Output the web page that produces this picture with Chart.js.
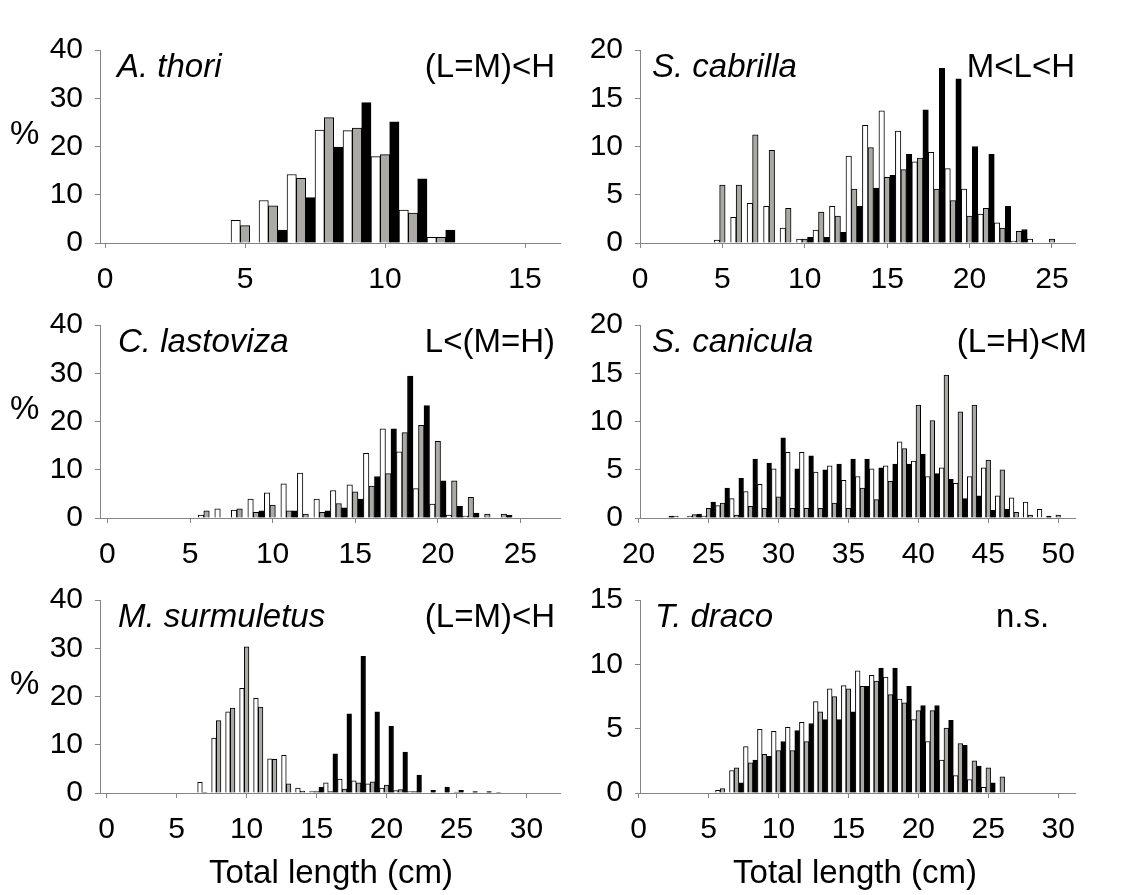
<!DOCTYPE html>
<html>
<head>
<meta charset="utf-8">
<script src="https://cdn.jsdelivr.net/npm/chart.js@4.4.1/dist/chart.umd.min.js"></script>
<style>
  body { margin: 0; background: #fff; width: 1124px; height: 895px; position: relative; overflow: hidden;
         font-family: "Liberation Sans", Arial, sans-serif; }
  canvas { position: absolute; }
  .lab { position: absolute; font-size: 33px; line-height: 33px; color: #000; white-space: nowrap; }
  .sp { font-style: italic; }
  .ctr { text-align: center; width: 400px; }
</style>
</head>
<body>
<canvas id="thori" width="575" height="285" style="left:0;top:18px"></canvas>
<canvas id="cabrilla" width="540" height="285" style="left:560px;top:18px"></canvas>
<canvas id="lastoviza" width="575" height="285" style="left:0;top:293px"></canvas>
<canvas id="canicula" width="540" height="285" style="left:560px;top:293px"></canvas>
<canvas id="surmuletus" width="575" height="285" style="left:0;top:568px"></canvas>
<canvas id="draco" width="540" height="285" style="left:560px;top:568px"></canvas>

<div class="lab sp" style="left:117px;top:49px">A. thori</div>
<div class="lab" style="right:569px;top:49px">(L=M)&lt;H</div>
<div class="lab sp" style="left:652px;top:49px">S. cabrilla</div>
<div class="lab" style="right:49px;top:49px">M&lt;L&lt;H</div>
<div class="lab sp" style="left:118px;top:324px">C. lastoviza</div>
<div class="lab" style="right:569px;top:324px">L&lt;(M=H)</div>
<div class="lab sp" style="left:652px;top:324px">S. canicula</div>
<div class="lab" style="right:37px;top:324px">(L=H)&lt;M</div>
<div class="lab sp" style="left:118px;top:599px">M. surmuletus</div>
<div class="lab" style="right:569px;top:599px">(L=M)&lt;H</div>
<div class="lab sp" style="left:655px;top:599px">T. draco</div>
<div class="lab" style="left:996px;top:599px">n.s.</div>
<div class="lab" style="left:10px;top:116px">%</div>
<div class="lab" style="left:10px;top:391px">%</div>
<div class="lab" style="left:10px;top:666px">%</div>
<div class="lab ctr" style="left:131px;top:855px">Total length (cm)</div>
<div class="lab ctr" style="left:655px;top:855px">Total length (cm)</div>

<script>
// size classes (cm) and % per group: L = white, M = grey, H = black
const thoriBins = [5, 6, 7, 8, 9, 10, 11, 12];
const thoriL = [4.7, 8.8, 14.2, 23.4, 23.3, 17.9, 6.8, 1.2];
const thoriM = [3.6, 7.7, 13.4, 26.0, 23.8, 18.3, 6.2, 1.2];
const thoriH = [0, 2.7, 9.4, 19.9, 29.1, 25.1, 13.3, 2.7];

const cabrillaBins = [5, 6, 7, 8, 9, 10, 11, 12, 13, 14, 15, 16, 17, 18, 19, 20, 21, 22, 23, 24, 25];
const cabrillaL = [0.3, 2.65, 4.1, 3.8, 1.55, 0.4, 1.35, 3.8, 9.0, 12.2, 13.7, 11.6, 8.4, 9.4, 7.7, 5.6, 3.0, 2.1, 0.2, 0.4, 0];
const cabrillaM = [6.0, 6.0, 11.2, 9.6, 3.6, 0.4, 3.2, 2.8, 5.6, 9.9, 6.8, 7.6, 8.8, 5.6, 4.4, 2.8, 3.6, 1.55, 1.2, 0, 0.4];
const cabrillaH = [0, 0, 0, 0, 0, 0.6, 0.6, 1.1, 3.8, 5.7, 7.0, 9.2, 13.8, 18.1, 17.0, 10.0, 9.2, 3.8, 1.4, 0, 0];

const lastovizaBins = [6, 7, 8, 9, 10, 11, 12, 13, 14, 15, 16, 17, 18, 19, 20, 21, 22, 23, 24];
const lastovizaL = [0.6, 1.9, 1.65, 3.9, 5.2, 7.1, 9.3, 3.9, 5.7, 6.9, 13.4, 18.5, 13.7, 6.1, 2.9, 0.6, 0.4, 0, 0];
const lastovizaM = [1.5, 0, 1.9, 1.2, 2.7, 1.5, 0.8, 1.2, 3.0, 5.4, 6.6, 9.2, 17.7, 19.2, 15.9, 7.7, 4.3, 0.8, 0.8];
const lastovizaH = [0, 0, 0, 1.5, 0, 1.5, 0, 1.5, 2.1, 3.9, 8.6, 18.5, 29.4, 23.3, 7.7, 2.4, 1.0, 0, 0.55];

const caniculaBins = [22, 23, 24, 25, 26, 27, 28, 29, 30, 31, 32, 33, 34, 35, 36, 37, 38, 39, 40, 41, 42, 43, 44, 45, 46, 47, 48, 49, 50];
const caniculaL = [0, 0.2, 0.2, 0.2, 1.3, 2.0, 2.75, 3.5, 5.1, 6.8, 6.8, 4.75, 5.4, 3.9, 4.3, 5.1, 5.4, 7.9, 5.9, 4.3, 5.2, 3.6, 4.3, 5.2, 2.3, 2.1, 1.65, 0.9, 0];
const caniculaM = [0, 0, 0.35, 1.0, 1.55, 0.3, 1.2, 1.0, 2.2, 1.0, 1.0, 1.0, 1.55, 1.0, 3.1, 1.9, 3.8, 7.2, 11.7, 10.1, 14.8, 11.0, 11.7, 6.0, 5.0, 0.6, 0.3, 0, 0.3];
const caniculaH = [0.2, 0, 0.4, 1.65, 3.1, 4.1, 6.1, 5.7, 8.3, 5.1, 6.45, 5.0, 5.6, 6.1, 6.1, 5.2, 5.6, 5.6, 6.6, 4.6, 4.0, 2.0, 2.3, 0.8, 0.9, 0, 0, 0.2, 0];

const surmuletusBins = [7, 8, 9, 10, 11, 12, 13, 14, 15, 16, 17, 18, 19, 20, 21, 22, 23, 24, 25, 26, 27, 28];
const surmuletusL = [2.2, 11.4, 16.8, 21.7, 19.6, 7.1, 7.8, 1.0, 0.3, 2.1, 2.9, 2.5, 1.9, 1.0, 0.5, 0.3, 0, 0, 0, 0, 0, 0];
const surmuletusM = [0.15, 15.0, 17.6, 30.3, 17.8, 7.0, 1.9, 0.4, 0.3, 0.3, 0.8, 2.1, 2.3, 1.65, 0.7, 0.3, 0, 0, 0.2, 0, 0, 0.15];
const surmuletusH = [0, 0, 0, 0, 0, 0, 0, 0, 1.2, 8.1, 16.4, 28.3, 16.8, 13.8, 8.5, 3.7, 0.55, 1.25, 0.55, 0.3, 0.3, 0];

const dracoBins = [6, 7, 8, 9, 10, 11, 12, 13, 14, 15, 16, 17, 18, 19, 20, 21, 22, 23, 24, 25, 26];
const dracoL = [0.2, 1.75, 3.6, 4.95, 4.8, 5.1, 5.5, 7.1, 8.1, 8.35, 9.5, 9.15, 9.0, 7.3, 5.7, 4.0, 2.55, 1.35, 1.05, 0.45, 0];
const dracoM = [0.35, 1.95, 2.35, 3.0, 3.3, 3.3, 4.0, 6.3, 7.5, 8.1, 8.3, 8.7, 7.65, 7.0, 6.4, 6.4, 5.05, 3.85, 2.5, 1.95, 1.25];
const dracoH = [0, 0.8, 2.55, 2.85, 4.0, 4.85, 5.4, 5.7, 5.7, 6.3, 8.3, 9.7, 9.7, 8.3, 6.8, 6.8, 5.65, 3.7, 2.1, 0.8, 0];

// tick labels
const yTicks40 = [0, 10, 20, 30, 40];
const yTicks20 = [0, 5, 10, 15, 20];
const yTicks15 = [0, 5, 10, 15];
const xTicks15 = [0, 5, 10, 15];
const xTicks25 = [0, 5, 10, 15, 20, 25];
const xTicks30 = [0, 5, 10, 15, 20, 25, 30];
const xTicksCanicula = [20, 25, 30, 35, 40, 45, 50];

const fontFam = '"Liberation Sans", Arial, sans-serif';
const axisGrey = '#858585';

function pts(bins, vals) {
    return bins.map((b, i) => ({ x: b, y: vals[i] }));
}

function makePanel(id, bins, L, M, H, xmin, xmax, xt, ymax, yt, yw, padRight) {
    const ctx = document.getElementById(id).getContext('2d');
    return new Chart(ctx, {
        type: 'bar',
        data: {
            datasets: [
                { label: 'L', data: pts(bins, L), backgroundColor: '#ffffff', borderColor: '#000', borderWidth: 1 },
                { label: 'M', data: pts(bins, M), backgroundColor: '#aba9a5', borderColor: '#000', borderWidth: 1 },
                { label: 'H', data: pts(bins, H), backgroundColor: '#000000', borderColor: '#000', borderWidth: 1 }
            ]
        },
        options: {
            responsive: false,
            animation: false,
            layout: { padding: { top: 32, right: padRight, left: 0, bottom: 0 } },
            datasets: { bar: { barPercentage: 1, categoryPercentage: 1, borderSkipped: 'bottom' } },
            plugins: { legend: { display: false }, tooltip: { enabled: false } },
            scales: {
                x: {
                    type: 'linear', min: xmin, max: xmax, offset: false,
                    grid: { display: true, offset: false, drawOnChartArea: false, tickLength: 5, color: axisGrey },
                    border: { display: true, color: axisGrey, width: 1 },
                    ticks: { font: { size: 30, family: fontFam }, color: '#000', padding: 14, maxRotation: 0, autoSkip: false },
                    afterBuildTicks: s => { s.ticks = xt.map(v => ({ value: v })); },
                    afterFit: s => { s.height = 60; }
                },
                y: {
                    min: 0, max: ymax,
                    grid: { display: true, drawOnChartArea: false, tickLength: 5, color: axisGrey },
                    border: { display: true, color: axisGrey, width: 1 },
                    ticks: { font: { size: 30, family: fontFam }, color: '#000', padding: 12 },
                    afterBuildTicks: s => { s.ticks = yt.map(v => ({ value: v })); },
                    afterFit: s => { s.width = yw; }
                }
            }
        }
    });
}

makePanel('thori', thoriBins, thoriL, thoriM, thoriH, -0.18, 16.25, xTicks15, 40, yTicks40, 100, 15);
makePanel('cabrilla', cabrillaBins, cabrillaL, cabrillaM, cabrillaH, 0, 26.4, xTicks25, 20, yTicks20, 80, 25);
makePanel('lastoviza', lastovizaBins, lastovizaL, lastovizaM, lastovizaH, -0.45, 27.4, xTicks25, 40, yTicks40, 100, 15);
makePanel('canicula', caniculaBins, caniculaL, caniculaM, caniculaH, 20.1, 51.2, xTicksCanicula, 20, yTicks20, 80, 25);
makePanel('surmuletus', surmuletusBins, surmuletusL, surmuletusM, surmuletusH, -0.48, 32.4, xTicks30, 40, yTicks40, 100, 15);
makePanel('draco', dracoBins, dracoL, dracoM, dracoH, 0.1, 31.2, xTicks30, 15, yTicks15, 80, 25);
</script>
</body>
</html>
